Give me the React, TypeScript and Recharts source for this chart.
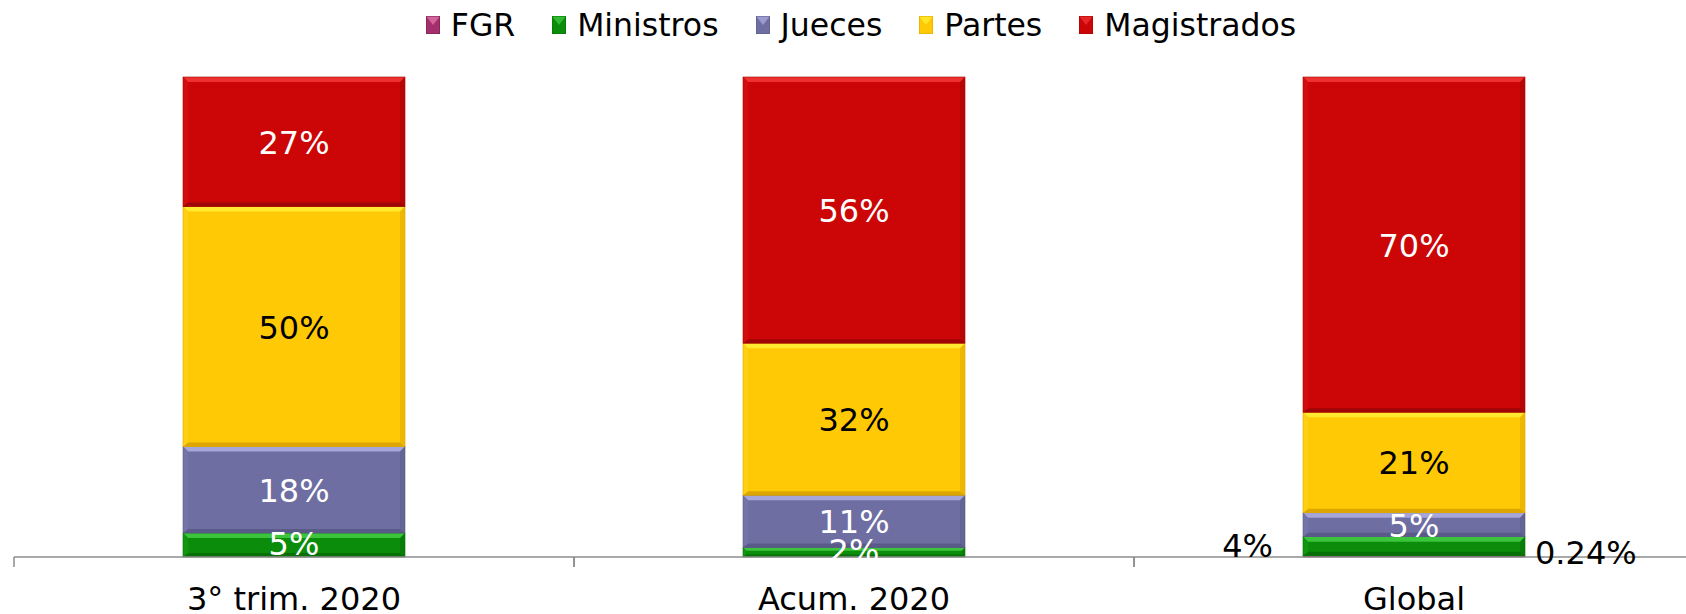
import React from 'react';
import { BarChart, Bar, XAxis, YAxis, Legend, LabelList } from 'recharts';

const categories = ['3° trim. 2020', 'Acum. 2020', 'Global'];
const fgr = [0, 0, 0.24];
const ministros = [5, 2, 4];
const jueces = [18, 11, 5];
const partes = [50, 32, 21];
const magistrados = [27, 56, 70];

const seriesNames = ['FGR', 'Ministros', 'Jueces', 'Partes', 'Magistrados'];
const seriesKeys = ['fgr', 'ministros', 'jueces', 'partes', 'magistrados'];

const palette: Record<string, { base: string; light: string; dark: string; side: string; text: string }> = {
  fgr: { base: '#A3306C', light: '#E070A8', dark: '#6E1E48', side: '#B03A78', text: '#000' },
  ministros: { base: '#0B8C0B', light: '#3CC43C', dark: '#067006', side: '#109610', text: '#fff' },
  jueces: { base: '#6E6EA2', light: '#A6A6DA', dark: '#5A5A88', side: '#7474AA', text: '#fff' },
  partes: { base: '#FFCA05', light: '#FFEA30', dark: '#DDA600', side: '#FFD010', text: '#000' },
  magistrados: { base: '#CC0606', light: '#EE3030', dark: '#A00505', side: '#D40C0C', text: '#fff' },
};

const data = categories.map((c, i) => ({
  cat: c,
  fgr: fgr[i],
  ministros: ministros[i],
  jueces: jueces[i],
  partes: partes[i],
  magistrados: magistrados[i],
}));

const FONT = "'DejaVu Sans', Verdana, sans-serif";
const CHART_W = 1700;
const CHART_H = 614;
const MARGIN = { top: 27, right: 6, left: 14, bottom: 0 };
const LEGEND_H = 50;
const XAXIS_H = 57;
const AXIS_Y = CHART_H - MARGIN.bottom - XAXIS_H;
const BAND = (CHART_W - MARGIN.left - MARGIN.right) / categories.length;

function makeShape(key: string) {
  const c = palette[key];
  return (props: any) => {
    const { x, y, width: w, height: h } = props;
    if (!h || h <= 0.5 || !w) return <g />;
    const bt = Math.min(5, h / 3);
    const bb = Math.min(4, h / 4);
    const bs = Math.min(5, h / 3);
    return (
      <g>
        <rect x={x} y={y} width={w} height={h} fill={c.base} />
        <polygon points={`${x},${y} ${x + w},${y} ${x + w - bs},${y + bt} ${x + bs},${y + bt}`} fill={c.light} />
        <polygon points={`${x},${y + h} ${x + w},${y + h} ${x + w - bs},${y + h - bb} ${x + bs},${y + h - bb}`} fill={c.dark} />
        <polygon points={`${x},${y} ${x + bs},${y + bt} ${x + bs},${y + h - bb} ${x},${y + h}`} fill={c.side} />
        <polygon points={`${x + w},${y} ${x + w - bs},${y + bt} ${x + w - bs},${y + h - bb} ${x + w},${y + h}`} fill={c.dark} opacity={0.5} />
        <rect x={x} y={y} width={w} height={h} fill="none" stroke={c.dark} strokeWidth={0.6} />
      </g>
    );
  };
}

function fmt(v: number) {
  return `${v}%`;
}

function makeLabel(key: string) {
  const c = palette[key];
  return (props: any) => {
    const { x, y, width: w, height: h, value, index } = props;
    if (value === undefined || value === null || value === 0) return null;
    const cat = categories[index];
    if (key === 'fgr') {
      return (
        <text x={x + w + 10} y={y + h / 2 - 3} fontSize={32} fontFamily={FONT} fill="#000" dominantBaseline="central" textAnchor="start">
          {fmt(value)}
        </text>
      );
    }
    if (key === 'ministros' && cat === 'Global') {
      return (
        <text x={x - 30} y={y + h / 2} fontSize={32} fontFamily={FONT} fill="#000" dominantBaseline="central" textAnchor="end">
          {fmt(value)}
        </text>
      );
    }
    const dy = key === 'ministros' ? -1 : 1;
    const clipId = `clip-${key}-${index}`;
    return (
      <g>
        <defs>
          <clipPath id={clipId}>
            <rect x={x - 50} y={y - 200} width={w + 100} height={h + 201} />
          </clipPath>
        </defs>
        <text
          x={x + w / 2}
          y={y + h / 2 + dy}
          fontSize={32}
          fontFamily={FONT}
          fill={c.text}
          dominantBaseline="central"
          textAnchor="middle"
          clipPath={`url(#${clipId})`}
        >
          {fmt(value)}
        </text>
      </g>
    );
  };
}

function LegendContent() {
  return (
    <div
      style={{
        height: LEGEND_H,
        display: 'flex',
        justifyContent: 'center',
        alignItems: 'center',
        paddingLeft: 14,
        fontFamily: FONT,
        fontSize: 31.5,
        color: '#000',
        boxSizing: 'border-box',
      }}
    >
      {seriesKeys.map((k, i) => (
        <div key={k} style={{ display: 'flex', alignItems: 'center', marginRight: i < seriesKeys.length - 1 ? 37 : 0 }}>
          <svg width={14} height={18} style={{ marginRight: 11 }}>
            <rect x={0} y={0} width={14} height={18} fill={palette[k].base} />
            <polygon points="0,0 14,0 7,9" fill={palette[k].light} opacity={0.8} />
            <rect x={0} y={0} width={14} height={18} fill="none" stroke={palette[k].dark} strokeWidth={1} />
          </svg>
          <span style={{ lineHeight: '36px' }}>{seriesNames[i]}</span>
        </div>
      ))}
    </div>
  );
}

function CatTick(props: any) {
  const { x, payload } = props;
  return (
    <g>
      <line x1={x - BAND / 2} y1={AXIS_Y} x2={x - BAND / 2} y2={AXIS_Y + 10} stroke="#8c8c8c" strokeWidth={1.5} />
      <line x1={x + BAND / 2} y1={AXIS_Y} x2={x + BAND / 2} y2={AXIS_Y + 10} stroke="#8c8c8c" strokeWidth={1.5} />
      <text x={x} y={AXIS_Y + 53} fontSize={32} fontFamily={FONT} fill="#000" textAnchor="middle">
        {payload.value}
      </text>
    </g>
  );
}

export default function App() {
  return (
    <div
      style={{
        position: 'fixed',
        left: 0,
        top: 0,
        width: 1686,
        height: 614,
        overflow: 'hidden',
        background: '#fff',
        fontFamily: FONT,
      }}
    >
      <BarChart width={CHART_W} height={CHART_H} data={data} margin={MARGIN} stackOffset="expand" barSize={222}>
        <Legend verticalAlign="top" align="center" content={() => <LegendContent />} wrapperStyle={{ top: 0, height: LEGEND_H }} />
        <XAxis
          dataKey="cat"
          height={XAXIS_H}
          axisLine={{ stroke: '#8c8c8c', strokeWidth: 1.5 }}
          tickLine={false}
          tick={<CatTick />}
          interval={0}
        />
        <YAxis hide domain={[0, 1]} />
        {seriesKeys.map((k) => (
          <Bar key={k} dataKey={k} stackId="a" fill={palette[k].base} isAnimationActive={false} shape={makeShape(k)}>
            <LabelList dataKey={k} content={makeLabel(k)} />
          </Bar>
        ))}
      </BarChart>
    </div>
  );
}
